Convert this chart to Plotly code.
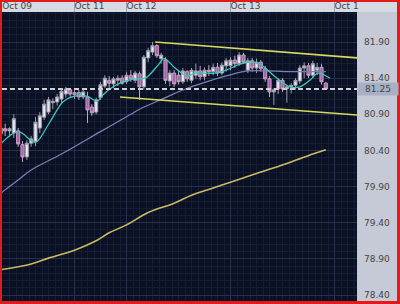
import plotly.graph_objects as go

# ---------------- data (hourly candles, t = hours from Oct 12 00:00) ----------------
hours = list(range(-29, 47))
open_ = [80.63, 80.70, 80.67, 80.64, 80.67, 80.48, 80.31, 80.50, 80.52, 80.71,
         80.86, 80.93, 81.06, 81.07, 81.11, 81.18, 81.24, 81.17, 81.20, 81.14,
         81.14, 81.00, 80.93, 81.13, 81.29, 81.37, 81.32, 81.37, 81.40,
         81.35, 81.44, 81.37, 81.46, 81.28, 81.68, 81.76, 81.85, 81.67, 81.65,
         81.36, 81.47, 81.44, 81.35, 81.49, 81.37, 81.44, 81.50, 81.42, 81.51,
         81.49, 81.55, 81.47, 81.57,
         81.57, 81.65, 81.60, 81.72, 81.51, 81.64, 81.54, 81.62, 81.53, 81.39,
         81.21, 81.25, 81.37, 81.25, 81.28, 81.30, 81.36, 81.54, 81.57, 81.44,
         81.51, 81.55, 81.33]
high = [80.75, 80.77, 80.72, 80.90, 80.71, 80.53, 80.54, 80.60, 80.86, 80.93,
        81.10, 81.14, 81.12, 81.18, 81.26, 81.28, 81.26, 81.24, 81.24, 81.26,
        81.21, 81.04, 81.13, 81.35, 81.44, 81.43, 81.42, 81.44, 81.44,
        81.49, 81.51, 81.50, 81.49, 81.72, 81.82, 81.90, 81.87, 81.75, 81.69,
        81.51, 81.51, 81.50, 81.54, 81.51, 81.54, 81.60, 81.57, 81.55, 81.58,
        81.60, 81.61, 81.62, 81.68,
        81.69, 81.71, 81.76, 81.75, 81.68, 81.68, 81.67, 81.65, 81.57, 81.43,
        81.26, 81.40, 81.40, 81.31, 81.33, 81.40, 81.58, 81.62, 81.61, 81.64,
        81.61, 81.60, 81.35]
low = [80.59, 80.60, 80.59, 80.57, 80.45, 80.24, 80.27, 80.45, 80.46, 80.64,
       80.82, 80.90, 80.97, 81.02, 81.06, 81.13, 81.14, 81.11, 81.10, 81.11,
       80.78, 80.88, 80.90, 81.10, 81.26, 81.26, 81.26, 81.29, 81.31,
       81.32, 81.35, 81.33, 81.10, 81.24, 81.62, 81.72, 81.68, 81.60, 81.32,
       81.29, 81.28, 81.31, 81.32, 81.35, 81.33, 81.39, 81.37, 81.37, 81.43,
       81.44, 81.43, 81.44, 81.49,
       81.51, 81.54, 81.57, 81.60, 81.47, 81.49, 81.47, 81.49, 81.35, 81.14,
       81.03, 81.18, 81.21, 81.06, 81.19, 81.24, 81.32, 81.40, 81.40, 81.40,
       81.44, 81.31, 81.24]
close = [80.71, 80.67, 80.70, 80.84, 80.49, 80.31, 80.50, 80.56, 80.79, 80.88,
         81.04, 81.10, 81.08, 81.14, 81.22, 81.25, 81.18, 81.20, 81.14, 81.21,
         80.96, 80.92, 81.10, 81.31, 81.40, 81.33, 81.39, 81.40, 81.33,
         81.44, 81.39, 81.47, 81.28, 81.69, 81.78, 81.85, 81.71, 81.72, 81.37,
         81.47, 81.32, 81.35, 81.50, 81.39, 81.51, 81.50, 81.42, 81.51, 81.49,
         81.55, 81.47, 81.58, 81.64,
         81.65, 81.60, 81.72, 81.62, 81.64, 81.54, 81.62, 81.53, 81.39, 81.21,
         81.24, 81.37, 81.25, 81.28, 81.30, 81.37, 81.54, 81.57, 81.44, 81.60,
         81.55, 81.35, 81.25]

# short moving average (cyan)
ma_fast_t = [-29.2, -25.0, -21.6, -20.7, -17.7, -14.7, -12.6, -9.1, -6.8, -5.4,
             -3.1, -1.5, 0.3, 2.0, 4.3, 7.3, 8.7, 11.2, 14.0, 15.8, 18.1, 20.4,
             23.0, 26.0, 28.0, 30.3, 34.3, 37.7, 40.0, 42.3, 44.2, 46.9]
ma_fast = [80.48, 80.66, 80.52, 80.52, 80.79, 81.07, 81.14, 81.15, 81.08, 81.17,
           81.28, 81.33, 81.37, 81.39, 81.40, 81.58, 81.67, 81.54, 81.43, 81.47,
           81.47, 81.47, 81.51, 81.59, 81.62, 81.61, 81.42, 81.28, 81.28, 81.37,
           81.47, 81.40]
# medium moving average (lavender)
ma_mid_t = [-29, -25, -22, -15, -6, 1, 3, 9, 14, 19, 23, 28, 38, 46]
ma_mid = [79.81, 79.99, 80.13, 80.35, 80.66, 80.90, 80.97, 81.13, 81.26, 81.36,
          81.43, 81.50, 81.49, 81.49]
# long moving average (gold)
ma_slow_t = [-29, -22, -18, -12, -7, -4, 0, 5, 11, 15, 20, 24, 31, 38, 43, 46]
ma_slow = [78.75, 78.83, 78.91, 79.02, 79.15, 79.26, 79.37, 79.54, 79.67, 79.78,
           79.88, 79.96, 80.10, 80.24, 80.35, 80.41]

# trend channel (yellow)
chan_up_t = [6.6, 53.2]
chan_up = [81.90, 81.68]
chan_lo_t = [-1.5, 53.2]
chan_lo = [81.14, 80.89]

day_ticks = [-28.7, -12, 0, 24, 48]
day_labels = ["Oct 09", "Oct 11", "Oct 12", "Oct 13", "Oct 1"]
price_ticks = [78.40, 78.90, 79.40, 79.90, 80.40, 80.90, 81.40, 81.90]
last_price = close[-1]

# ---------------- figure ----------------
FONT = "DejaVu Sans"
fig = go.Figure()

fig.add_trace(go.Scatter(x=ma_slow_t, y=ma_slow, mode="lines", line_shape="spline",
                         line=dict(color="#c9bb62", width=1.6), hoverinfo="skip"))
fig.add_trace(go.Scatter(x=ma_mid_t, y=ma_mid, mode="lines", line_shape="spline",
                         line=dict(color="#7a80b4", width=1.3), hoverinfo="skip"))
fig.add_trace(go.Candlestick(
    x=hours, open=open_, high=high, low=low, close=close,
    increasing=dict(fillcolor="#e6e6ee", line=dict(color="#9c9cab", width=1)),
    decreasing=dict(fillcolor="#a862a8", line=dict(color="#c7a2c7", width=1)),
    whiskerwidth=0, hoverinfo="skip"))
fig.add_trace(go.Scatter(x=ma_fast_t, y=ma_fast, mode="lines", line_shape="spline",
                         line=dict(color="#3fc6bd", width=1.3), hoverinfo="skip"))
fig.add_trace(go.Scatter(x=chan_up_t, y=chan_up, mode="lines",
                         line=dict(color="#d9d95e", width=1.6), hoverinfo="skip"))
fig.add_trace(go.Scatter(x=chan_lo_t, y=chan_lo, mode="lines",
                         line=dict(color="#d9d95e", width=1.6), hoverinfo="skip"))

W, H = 400, 304
ML, MR, MT, MB = 2, 43, 12, 3
pw, ph = W - ML - MR, H - MT - MB

def px_x(px):
    return (px - ML) / pw

def px_y(py):
    return (H - MB - py) / ph

shapes = [
    # header band
    dict(type="rect", xref="paper", yref="paper", x0=px_x(2), x1=px_x(397),
         y0=1, y1=px_y(2), fillcolor="#d6dae2", line_width=0, layer="below"),
    # price axis panel
    dict(type="rect", xref="paper", yref="paper", x0=1, x1=px_x(397),
         y0=0, y1=1, fillcolor="#c6cad6", line_width=0, layer="below"),
    # last price dashed line
    dict(type="line", xref="paper", yref="y", x0=0, x1=1, y0=last_price, y1=last_price,
         line=dict(color="#d0d0d4", width=2, dash="5px,3px"), layer="above"),
]
for d in day_ticks[1:]:
    shapes.append(dict(type="line", xref="x", yref="paper", x0=d, x1=d, y0=1, y1=px_y(2),
                       line=dict(color="#9ea3ad", width=1), layer="above"))

fig.update_layout(
    width=W, height=H, autosize=False,
    margin=dict(l=ML, r=MR, t=MT, b=MB, pad=0),
    paper_bgcolor="#e31a1a", plot_bgcolor="#0a1124",
    showlegend=False, shapes=shapes, boxgap=0.2, boxgroupgap=0.1,
    font=dict(family=FONT, size=9, color="#444444"),
    annotations=[dict(xref="paper", yref="y", x=1, y=last_price, xanchor="left",
                      yanchor="middle", text=f"{last_price:.2f}", showarrow=False,
                      bgcolor="#a7b0c4", width=38, height=10, borderpad=1,
                      align="center",
                      font=dict(family=FONT, size=9, color="#444444"))],
)
fig.update_xaxes(
    range=[-28.73, 53.19], side="top", tickmode="array", tickvals=day_ticks,
    ticktext=day_labels, ticks="", ticklabelposition="outside right",
    showgrid=True, gridcolor="#263049", gridwidth=1, zeroline=False,
    showline=False, rangeslider=dict(visible=False),
    tickfont=dict(family=FONT, size=9, color="#444444"),
    minor=dict(tickmode="linear", tick0=0, dtick=1.5, showgrid=True,
               gridcolor="#151d33", gridwidth=1),
)
fig.update_yaxes(
    range=[78.317, 82.315], side="right", tickmode="array", tickvals=price_ticks,
    ticktext=[f"{v:.2f}" for v in price_ticks], ticks="", ticklabelstandoff=6,
    showgrid=True, gridcolor="#263049", gridwidth=1, zeroline=False, showline=False,
    tickfont=dict(family=FONT, size=9, color="#444444"),
    minor=dict(tickmode="linear", tick0=78.4, dtick=0.1, showgrid=True,
               gridcolor="#151d33", gridwidth=1),
)

fig.write_html("out.html")
